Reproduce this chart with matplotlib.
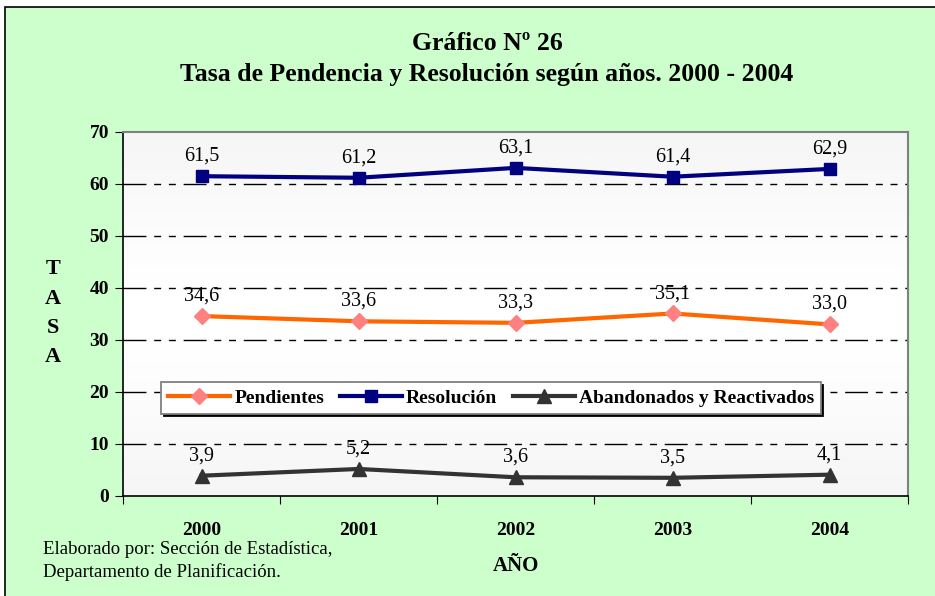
import numpy as np
import matplotlib.pyplot as plt
from matplotlib.patches import Rectangle

years = ["2000", "2001", "2002", "2003", "2004"]
pendientes = [34.6, 33.6, 33.3, 35.1, 33.0]
resolucion = [61.5, 61.2, 63.1, 61.4, 62.9]
abandonados = [3.9, 5.2, 3.6, 3.5, 4.1]

serif = ['Liberation Serif', 'DejaVu Serif']
plt.rcParams['font.family'] = serif

W, H = 935, 596
fig = plt.figure(figsize=(W / 100, H / 100), dpi=100)
fig.patch.set_facecolor('white')
# green frame
fig.patches.append(Rectangle((5 / W, -0.01), 1.0, 1 - 7 / H + 0.01, transform=fig.transFigure,
                             facecolor='#CCFFCC', edgecolor='black', lw=1.2, zorder=-10))

ax = fig.add_axes([123 / W, 1 - 496 / H, 785 / W, (496 - 132) / H])

# gradient background: gray - white - gray
grad = np.abs(np.linspace(-1, 1, 256))[:, None] ** 1.5
ax.imshow(grad, extent=[0, 5, 0, 70], aspect='auto', cmap='Greys', vmin=0, vmax=12,
          zorder=0, origin='lower')

x = np.arange(len(years)) + 0.5
for yv in range(10, 70, 10):
    ax.axhline(yv, color='black', lw=1.0, ls=(0, (16.5, 5.6, 5, 5.6, 5, 5.6)), zorder=1)

ax.plot(x, pendientes, color='#FF6600', lw=3, marker='D', ms=8, mfc='#FF8080', mec='#FF8080',
        label='Pendientes', zorder=3)
ax.plot(x, resolucion, color='#000080', lw=3, marker='s', ms=9, mfc='#000080', mec='#000080',
        label='Resolución', zorder=3)
ax.plot(x, abandonados, color='#333333', lw=3, marker='^', ms=10, mfc='#333333', mec='#333333',
        label='Abandonados y Reactivados', zorder=3)

for series in (pendientes, resolucion, abandonados):
    for xi, v in zip(x, series):
        ax.text(xi, v + 2.0, f"{v:.1f}".replace('.', ','), ha='center', va='bottom',
                fontsize=14.5, zorder=4)

ax.set_xlim(0, 5)
ax.set_ylim(0, 70)
ax.set_yticks(range(0, 80, 10))
ax.set_yticklabels([str(v) for v in range(0, 80, 10)], fontsize=14, fontweight='bold')
ax.set_xticks(range(0, 6))
ax.set_xticklabels([])
ax.set_xticks(x, minor=True)
ax.set_xticklabels(years, minor=True, fontsize=14, fontweight='bold')
ax.tick_params(axis='x', which='minor', length=0, pad=19)
ax.tick_params(axis='x', which='major', length=6, direction='out', color='black')
ax.tick_params(axis='y', length=6, direction='out', color='black', pad=4)
for s in ('top', 'right'):
    ax.spines[s].set_color('#808080')
    ax.spines[s].set_linewidth(1.5)
for s in ('left', 'bottom'):
    ax.spines[s].set_color('black')
    ax.spines[s].set_linewidth(1.2)

leg = ax.legend(loc='center', bbox_to_anchor=(491 / W, 1 - 398 / H),
                bbox_transform=fig.transFigure, ncol=3, frameon=True, fancybox=False,
                shadow={'color': 'black', 'alpha': 1}, edgecolor='#808080', framealpha=1,
                prop={'family': serif, 'weight': 'bold', 'size': 14},
                handlelength=3.2, handletextpad=0.2, columnspacing=0.8, borderpad=0.35)
leg.set_zorder(5)
leg.get_frame().set_linewidth(1.3)

fig.text(487 / W, 1 - 43 / H, "Gráfico Nº 26", ha='center', va='center',
         fontsize=18.5, fontweight='bold')
fig.text(487 / W, 1 - 75 / H, "Tasa de Pendencia y Resolución según años. 2000 - 2004",
         ha='center', va='center', fontsize=18.5, fontweight='bold')

for i, ch in enumerate("TASA"):
    fig.text(53 / W, 1 - (269 + i * 29.5) / H, ch, ha='center', va='center',
             fontsize=16, fontweight='bold')

fig.text(516 / W, 1 - 566 / H, "AÑO", ha='center', va='center', fontsize=15, fontweight='bold')
fig.text(43 / W, 1 - 550 / H, "Elaborado por: Sección de Estadística,", ha='left', va='center',
         fontsize=13.5)
fig.text(43 / W, 1 - 572 / H, "Departamento de Planificación.", ha='left', va='center',
         fontsize=13.5)

fig.savefig('out.png', dpi=100)
